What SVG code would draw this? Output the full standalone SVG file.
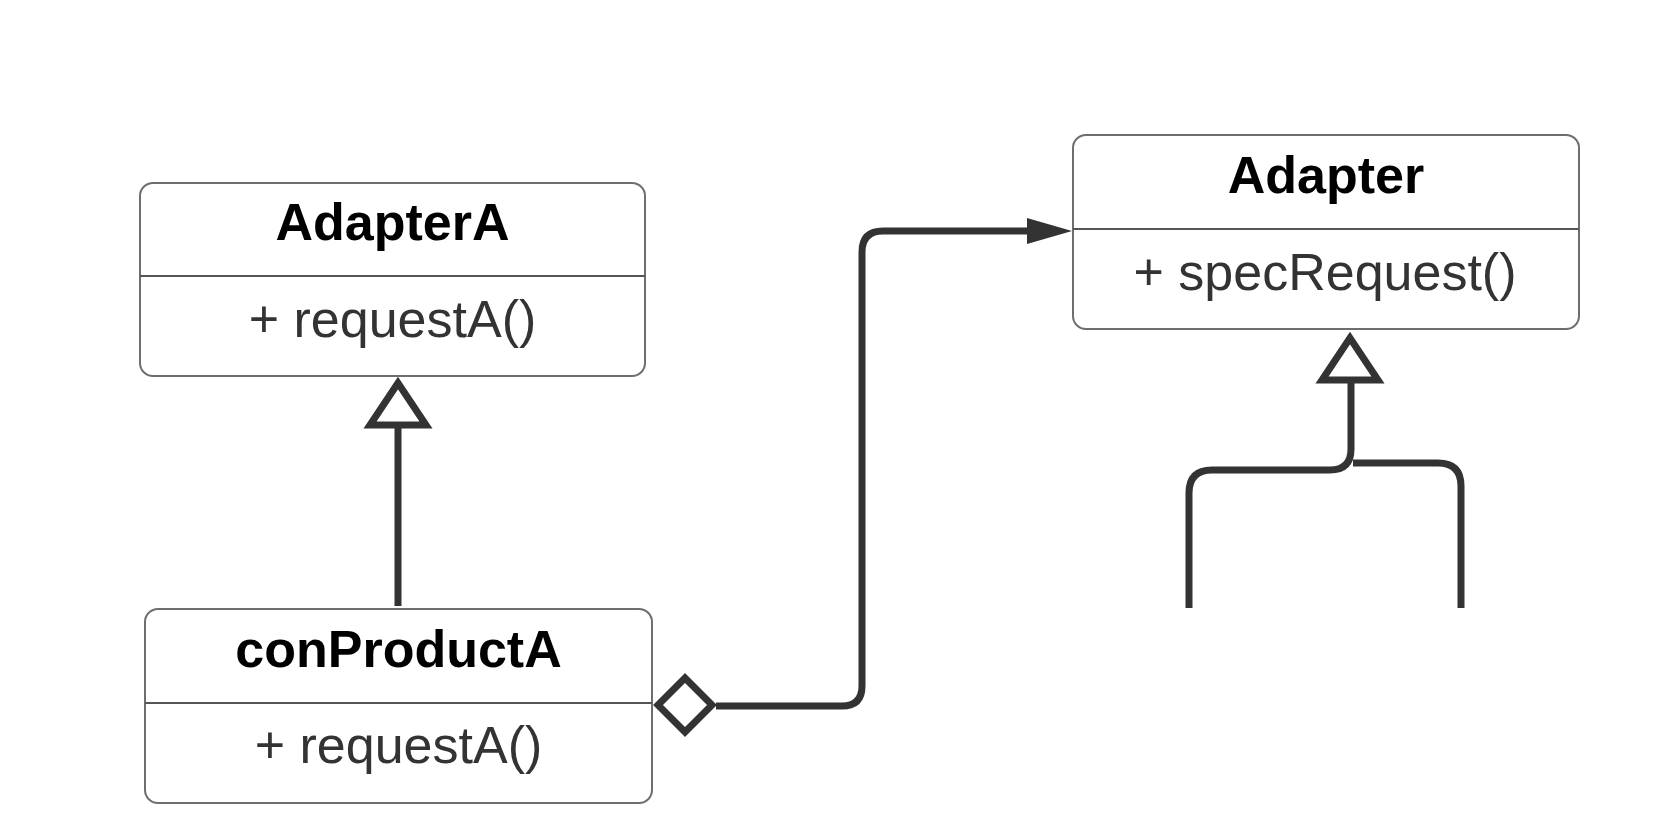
<svg xmlns="http://www.w3.org/2000/svg" width="1658" height="834" viewBox="0 0 1658 834">
<style>
.box{fill:#fff;stroke:#6e6e6e;stroke-width:2}
.div{stroke:#555;stroke-width:2}
.title{font-family:"Liberation Sans",Arial,sans-serif;font-weight:bold;font-size:52px;fill:#000;text-anchor:middle}
.op{font-family:"Liberation Sans",Arial,sans-serif;font-size:52px;fill:#333;text-anchor:middle}
.line{fill:none;stroke:#333;stroke-width:7}
.hollow{fill:#fff;stroke:#333;stroke-width:7;stroke-linejoin:miter}
</style>
<rect width="1658" height="834" fill="#fff"/>
<g id="connectors">
<path class="line" d="M398,606 V428"/>
<polygon class="hollow" points="398,383 370,425 426,425"/>
<path class="line" d="M716,706 H842 Q862,706 862,686 V252 Q862,231 883,231 H1032"/>
<polygon points="1072,231 1027,218 1027,244" fill="#333"/>
<polygon class="hollow" points="658,705 685,678 712,705 685,732"/>
<path class="line" d="M1189,608 V493 Q1189,470 1212,470 H1330 Q1351,470 1351,449 V380"/>
<path class="line" d="M1461,608 V486 Q1461,463 1438,463 H1353"/>
<polygon class="hollow" points="1350,338 1322,380 1378,380"/>
</g>
<g id="AdapterA">
<rect class="box" x="140" y="183" width="505" height="193" rx="13"/>
<line class="div" x1="140" y1="276" x2="645" y2="276"/>
<text class="title" x="392.5" y="240">AdapterA</text>
<text class="op" x="392.5" y="337">+ requestA()</text>
</g>
<g id="conProductA">
<rect class="box" x="145" y="609" width="507" height="194" rx="13"/>
<line class="div" x1="145" y1="703" x2="652" y2="703"/>
<text class="title" x="398.5" y="667">conProductA</text>
<text class="op" x="398.5" y="763">+ requestA()</text>
</g>
<g id="Adapter">
<rect class="box" x="1073" y="135" width="506" height="194" rx="13"/>
<line class="div" x1="1073" y1="229" x2="1579" y2="229"/>
<text class="title" x="1326" y="193">Adapter</text>
<text class="op" x="1325" y="290">+ specRequest()</text>
</g>
</svg>
